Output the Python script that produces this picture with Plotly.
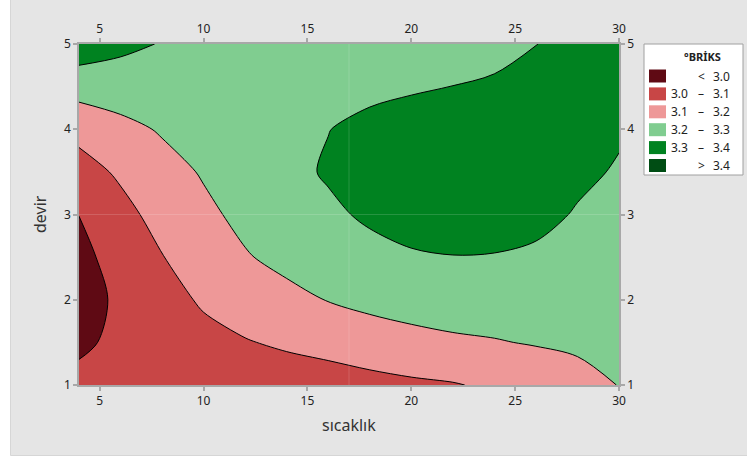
import plotly.graph_objects as go

# ---- data ----
sicaklik = [4, 6, 8, 10, 12, 14, 16, 18, 20, 22, 24, 26, 28, 30]
devir = [1.0, 1.5, 2.0, 2.5, 3.0, 3.5, 4.0, 4.5, 5.0]
briks_y10 = [3.045, 3.040, 3.040, 3.043, 3.049, 3.053, 3.057, 3.068, 3.083, 3.094, 3.115, 3.140, 3.170, 3.202]
briks_y15 = [2.970, 3.037, 3.055, 3.076, 3.095, 3.113, 3.132, 3.158, 3.175, 3.187, 3.195, 3.206, 3.215, 3.222]
briks_y20 = [2.950, 3.022, 3.070, 3.110, 3.142, 3.178, 3.203, 3.222, 3.234, 3.243, 3.246, 3.243, 3.236, 3.235]
briks_y25 = [2.975, 3.036, 3.097, 3.144, 3.194, 3.222, 3.240, 3.270, 3.292, 3.298, 3.296, 3.285, 3.266, 3.252]
briks_y30 = [3.001, 3.070, 3.134, 3.183, 3.220, 3.252, 3.282, 3.315, 3.330, 3.338, 3.337, 3.325, 3.293, 3.272]
briks_y35 = [3.060, 3.115, 3.170, 3.207, 3.240, 3.273, 3.310, 3.333, 3.347, 3.357, 3.360, 3.352, 3.318, 3.292]
briks_y40 = [3.130, 3.175, 3.208, 3.229, 3.252, 3.275, 3.298, 3.325, 3.340, 3.350, 3.360, 3.360, 3.335, 3.310]
briks_y45 = [3.240, 3.247, 3.251, 3.257, 3.259, 3.265, 3.275, 3.277, 3.290, 3.301, 3.315, 3.340, 3.340, 3.325]
briks_y50 = [3.360, 3.323, 3.295, 3.280, 3.270, 3.262, 3.255, 3.250, 3.250, 3.255, 3.265, 3.298, 3.338, 3.360]
briks = [briks_y10, briks_y15, briks_y20, briks_y25, briks_y30,
         briks_y35, briks_y40, briks_y45, briks_y50]

levels = [3.0, 3.1, 3.2, 3.3, 3.4]
band_colors = ["#5f0a14", "#c84646", "#ee9898", "#80cd90", "#008220", "#004d14"]
x_ticks = [5, 10, 15, 20, 25, 30]
y_ticks = [1, 2, 3, 4, 5]
legend_title = "°BRİKS"

# ---- layout geometry (pixels of the 747x459 canvas) ----
W, H = 747, 459
L, R, T, B = 79, 619, 44, 385


def px(xp):
    return (xp - L) / (R - L)


def py(yp):
    return (B - yp) / (B - T)


n = len(band_colors)
colorscale = [[i / (n - 1), c] for i, c in enumerate(band_colors)]

fig = go.Figure()
fig.add_trace(go.Contour(
    x=sicaklik, y=devir, z=briks,
    autocontour=False,
    contours=dict(start=levels[0], end=levels[-1], size=0.1, coloring="fill"),
    colorscale=colorscale, showscale=False,
    line=dict(color="black", width=1, smoothing=0.9),
    hoverinfo="skip",
))
# invisible trace so that the mirrored top/right axes are drawn with labels
fig.add_trace(go.Scatter(
    x=[sicaklik[0], sicaklik[-1]], y=[devir[0], devir[-1]], xaxis="x2", yaxis="y2",
    mode="markers", marker=dict(opacity=0), hoverinfo="skip", showlegend=False,
))

tickfont = dict(family="Noto Sans", size=12, color="#222222")
axis_common = dict(showgrid=False, zeroline=False, showline=True, linecolor="#a8a8a8",
                   linewidth=1.5, ticks="outside", ticklen=4, tickcolor="#a8a8a8",
                   tickwidth=1.5, tickfont=tickfont)

fig.update_layout(
    width=W, height=H,
    margin=dict(l=L, r=W - R, t=T, b=H - B),
    paper_bgcolor="#e5e5e5", plot_bgcolor="#e5e5e5",
    showlegend=False,
    xaxis=dict(range=[sicaklik[0], sicaklik[-1]], tickvals=x_ticks, **axis_common),
    yaxis=dict(range=[devir[0], devir[-1]], tickvals=y_ticks, **axis_common),
    xaxis2=dict(range=[sicaklik[0], sicaklik[-1]], tickvals=x_ticks, overlaying="x",
                side="top", anchor="y", **axis_common),
    yaxis2=dict(range=[devir[0], devir[-1]], tickvals=y_ticks, overlaying="y",
                side="right", anchor="x", **axis_common),
)

shapes = []
# white outer strips (left and bottom)
shapes.append(dict(type="rect", xref="paper", yref="paper", x0=px(-5), x1=px(10.5),
                   y0=py(-5), y1=py(H + 5), fillcolor="white", line=dict(width=0), layer="below"))
shapes.append(dict(type="rect", xref="paper", yref="paper", x0=px(-5), x1=px(W + 5),
                   y0=py(455.5), y1=py(H + 5), fillcolor="white", line=dict(width=0), layer="below"))
shapes.append(dict(type="line", xref="paper", yref="paper", x0=px(10.5), x1=px(10.5),
                   y0=py(0), y1=py(455.5), line=dict(color="#d6d6d6", width=1)))
shapes.append(dict(type="line", xref="paper", yref="paper", x0=px(10.5), x1=px(W),
                   y0=py(455.5), y1=py(455.5), line=dict(color="#d6d6d6", width=1)))
# faint rendering seams in the plot area
shapes.append(dict(type="line", xref="x", yref="paper", x0=17, x1=17, y0=0, y1=1,
                   line=dict(color="rgba(255,255,255,0.15)", width=1)))
shapes.append(dict(type="line", xref="paper", yref="y", x0=0, x1=1, y0=3, y1=3,
                   line=dict(color="rgba(255,255,255,0.15)", width=1)))
# legend box
shapes.append(dict(type="rect", xref="paper", yref="paper", x0=px(644), x1=px(743),
                   y0=py(175), y1=py(44), fillcolor="white", line=dict(color="#a0a0a0", width=1)))

annotations = []
annotations.append(dict(text="sıcaklık", xref="paper", yref="paper", x=px(349), y=py(425),
                        xanchor="center", yanchor="middle", showarrow=False,
                        font=dict(family="Noto Sans", size=16, color="#333333")))
annotations.append(dict(text="devir", xref="paper", yref="paper", x=px(40), y=py(214),
                        xanchor="center", yanchor="middle", showarrow=False, textangle=-90,
                        font=dict(family="Noto Sans", size=16, color="#333333")))
annotations.append(dict(text="<b>" + legend_title + "</b>", xref="paper", yref="paper",
                        x=px(702), y=py(57), xanchor="center", yanchor="middle", showarrow=False,
                        font=dict(family="Noto Sans", size=11, color="#222222")))

lfont = dict(family="Noto Sans", size=12, color="#222222")
row_y0, row_dy = 76, 17.9
for i, col in enumerate(band_colors):
    yc = row_y0 + i * row_dy
    shapes.append(dict(type="rect", xref="paper", yref="paper", x0=px(649), x1=px(666),
                       y0=py(yc + 6.5), y1=py(yc - 6.5), fillcolor=col, line=dict(width=0)))
    if i == 0:
        left, mid, right = "", "<", f"{levels[0]:.1f}"
    elif i == n - 1:
        left, mid, right = "", ">", f"{levels[-1]:.1f}"
    else:
        left, mid, right = f"{levels[i-1]:.1f}", "–", f"{levels[i]:.1f}"
    if left:
        annotations.append(dict(text=left, xref="paper", yref="paper", x=px(690), y=py(yc),
                                xanchor="right", yanchor="middle", showarrow=False, font=lfont))
    annotations.append(dict(text=mid, xref="paper", yref="paper", x=px(701), y=py(yc),
                            xanchor="center", yanchor="middle", showarrow=False, font=lfont))
    annotations.append(dict(text=right, xref="paper", yref="paper", x=px(732), y=py(yc),
                            xanchor="right", yanchor="middle", showarrow=False, font=lfont))

fig.update_layout(shapes=shapes, annotations=annotations)
fig.write_html("out.html", config={"displayModeBar": False},
               post_script="document.body.style.margin='0px';")
